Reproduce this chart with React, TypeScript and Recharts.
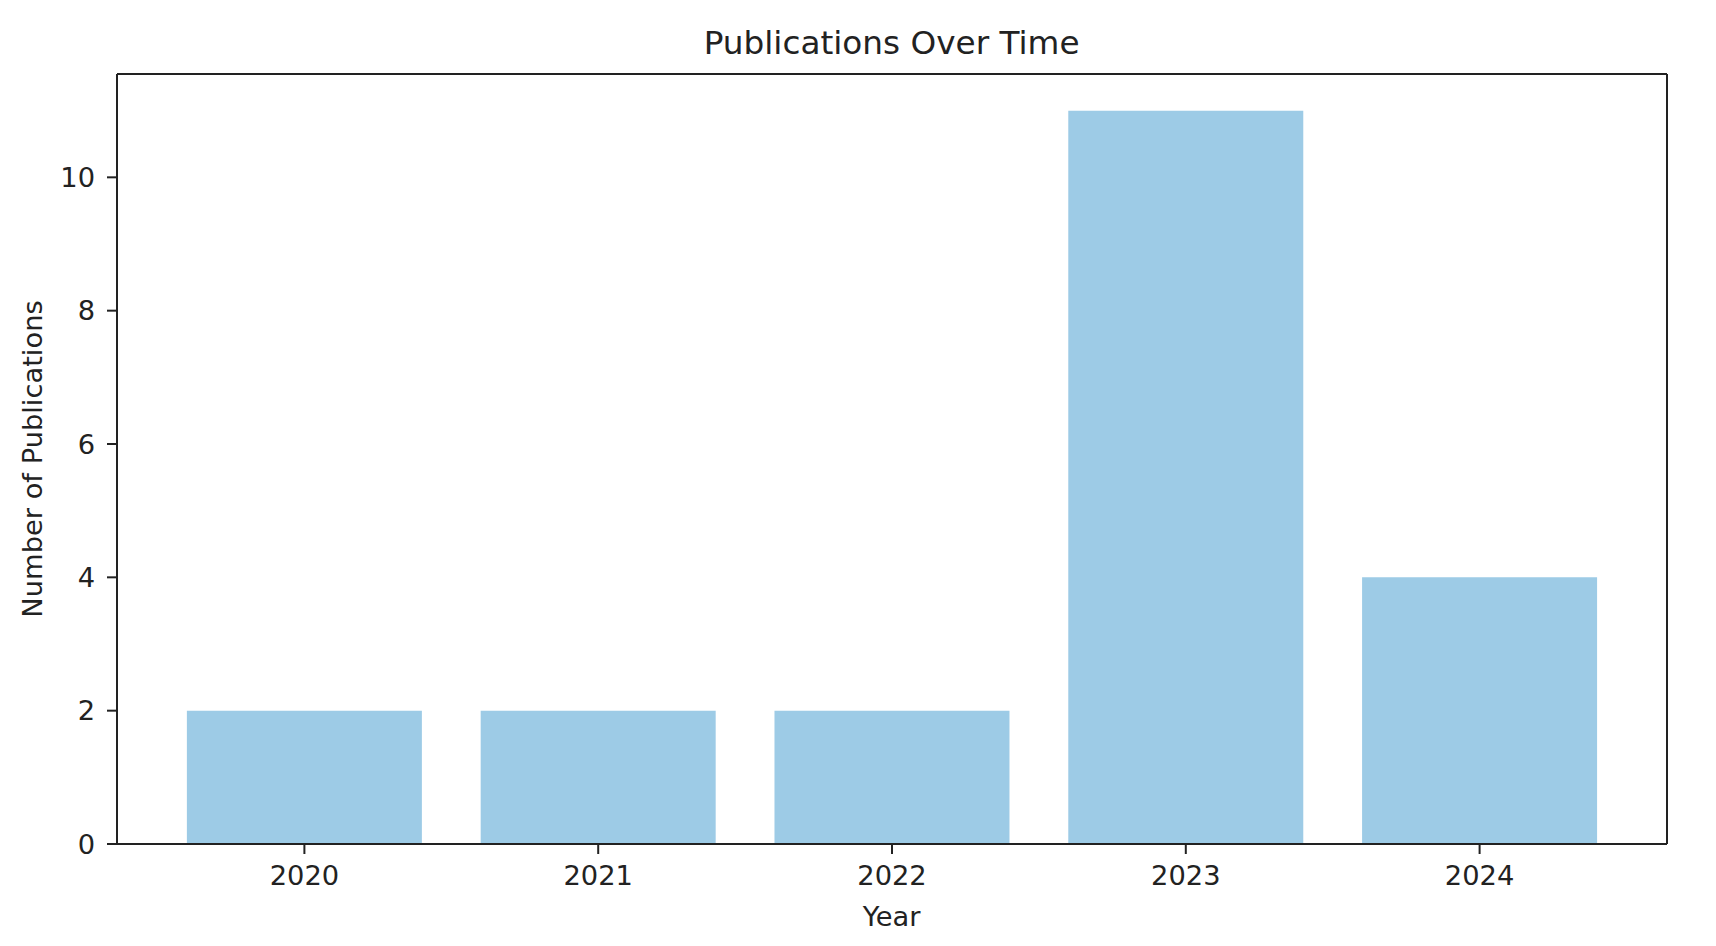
import { Bar, BarChart, XAxis, YAxis } from "recharts";

const years = ["2020", "2021", "2022", "2023", "2024"];
const publicationCounts = [2, 2, 2, 11, 4];
const yTicks = [0, 2, 4, 6, 8, 10];

const data = years.map((year, i) => ({ year, count: publicationCounts[i] }));

const W = 1716;
const H = 946;
const FONT = "DejaVu Sans, Verdana, sans-serif";
const INK = "#222";
const BAR = "#9DCBE6";

const tickStyle = { fontSize: 27.3, fill: INK, fontFamily: FONT };
const line = { stroke: INK, strokeWidth: 2 };
// matplotlib-style margins: bars at ±0.4 plus 5% padding on each side
const xPad = { left: 40.5, right: 40.5 };

export default function App() {
  return (
    <div
      style={{
        position: "absolute",
        left: 0,
        top: 0,
        width: W,
        height: H,
        background: "#fff",
        fontFamily: FONT,
      }}
    >
      <BarChart
        width={W}
        height={H}
        data={data}
        margin={{ top: 73, right: 48, bottom: 0, left: 0 }}
        barCategoryGap="10%"
      >
        <XAxis
          dataKey="year"
          padding={xPad}
          height={102}
          tickSize={10}
          tickMargin={12}
          tick={tickStyle}
          tickLine={line}
          axisLine={line}
        />
        {/* top and right spines of the frame */}
        <XAxis
          xAxisId="top"
          orientation="top"
          dataKey="year"
          padding={xPad}
          height={1}
          tick={false}
          tickLine={false}
          axisLine={line}
        />
        <YAxis
          type="number"
          domain={[0, 11.55]}
          ticks={yTicks}
          width={117}
          tickSize={10}
          tickMargin={12}
          tick={tickStyle}
          tickLine={line}
          axisLine={line}
        />
        <YAxis
          yAxisId="right"
          orientation="right"
          type="number"
          domain={[0, 11.55]}
          width={1}
          tick={false}
          tickLine={false}
          axisLine={line}
        />
        <Bar dataKey="count" fill={BAR} isAnimationActive={false} />
      </BarChart>
      <svg
        width={W}
        height={H}
        style={{ position: "absolute", left: 0, top: 0, pointerEvents: "none" }}
        fontFamily={FONT}
        fill={INK}
      >
        <text x={891.6} y={54.3} textAnchor="middle" fontSize={32.7}>
          Publications Over Time
        </text>
        <text x={891.6} y={926} textAnchor="middle" fontSize={27.3}>
          Year
        </text>
        <text
          x={42}
          y={459}
          textAnchor="middle"
          fontSize={27.3}
          transform="rotate(-90, 42, 459)"
        >
          Number of Publications
        </text>
      </svg>
    </div>
  );
}
